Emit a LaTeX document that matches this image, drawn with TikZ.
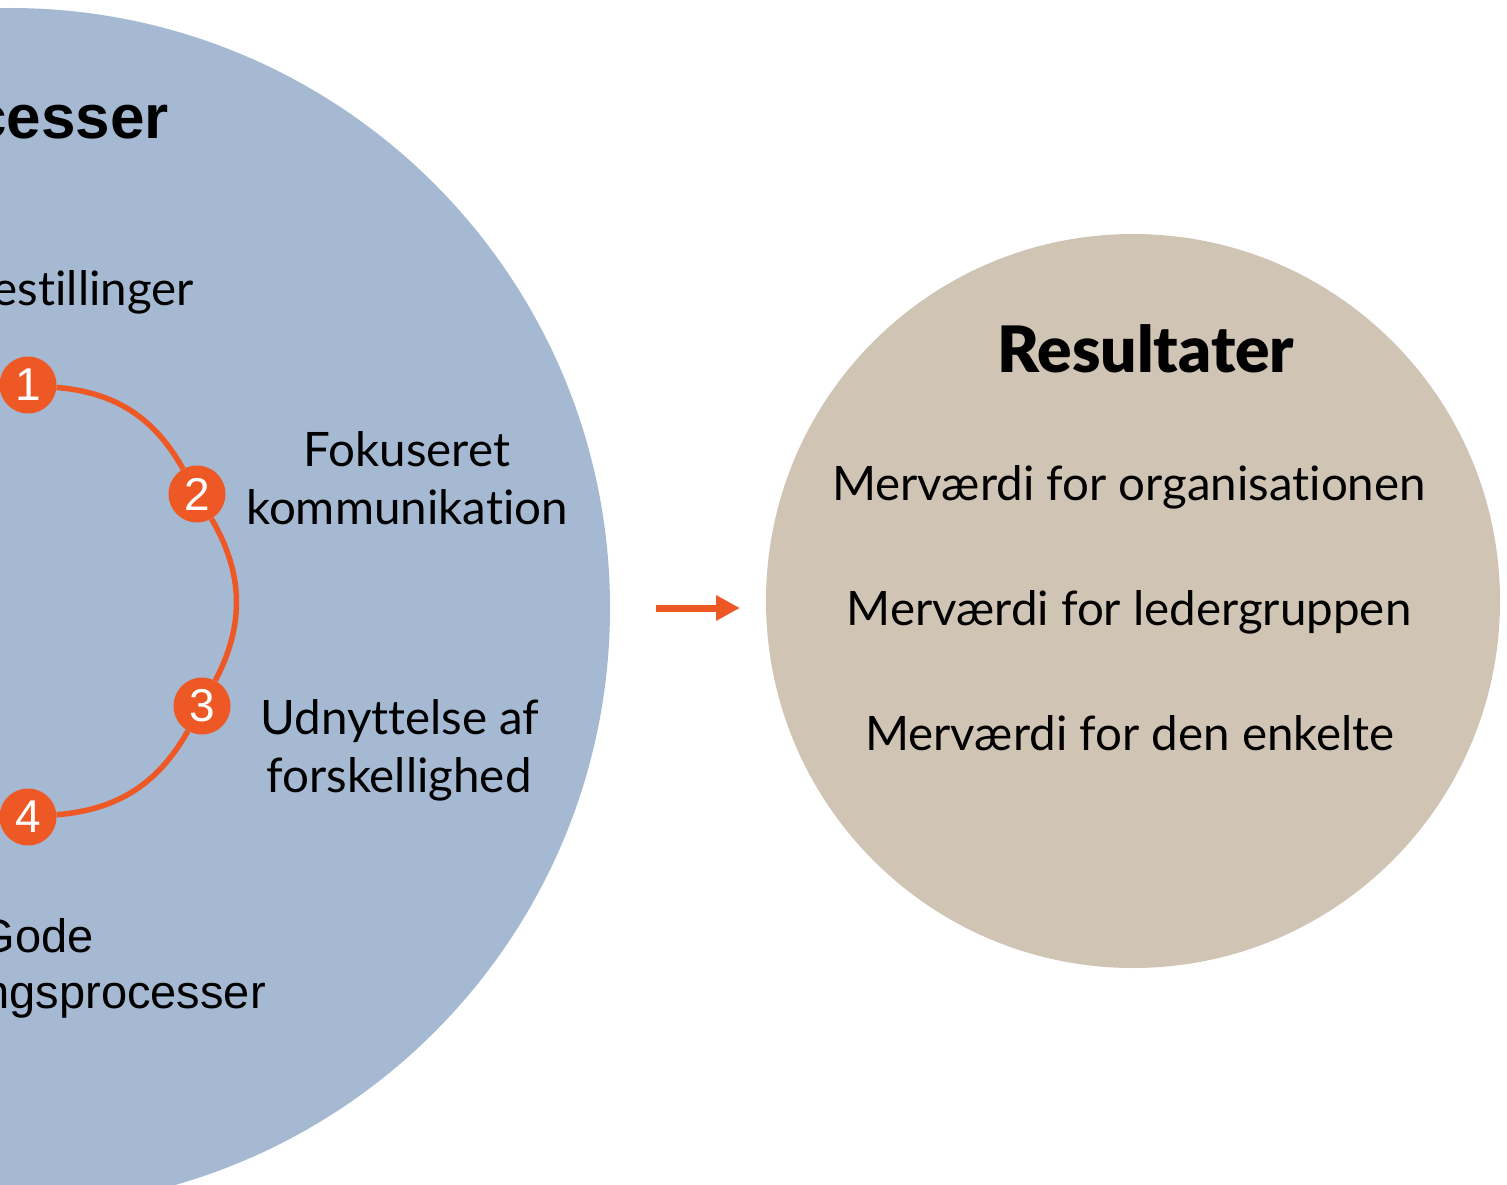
\documentclass[tikz,border=0pt]{standalone}
\usepackage{fontspec}
\setmainfont{Lato}[Ligatures={NoCommon}]
\newfontfamily\latoblack{Lato Black}[Ligatures={NoCommon}]
\newfontfamily\arialfont{Liberation Sans}
\usetikzlibrary{arrows.meta}
\definecolor{bluefill}{RGB}{165,185,211}
\definecolor{beigefill}{RGB}{208,196,181}
\definecolor{orangeacc}{RGB}{238,88,36}
\begin{document}
\begin{tikzpicture}[x=1pt,y=1pt,
  bodytext/.style={font=\fontsize{47.5}{56}\selectfont, inner sep=0pt, text=black},
  ariatext/.style={font=\arialfont\fontsize{47}{56}\selectfont, inner sep=0pt, text=black},
  numdot/.style={circle, fill=orangeacc, minimum size=57pt, inner sep=0pt, text=white, font=\arialfont\fontsize{46}{46}\selectfont},
  linkarc/.style={draw=orangeacc, line width=5.5pt},
  bigdisc/.style={circle, inner sep=0pt},
]
\useasboundingbox (0,0) rectangle (1507,-1185);
\fill[white] (0,0) rectangle (1507,-1185);
% discs
\node[bigdisc, fill=bluefill, minimum size=1200pt] (procs) at (10,-608) {};
\node[bigdisc, fill=beigefill, minimum size=734pt] (res) at (1133,-601) {};
% left texts (clipped fragments)
\node[anchor=base east, inner sep=0pt, font=\arialfont\bfseries\fontsize{62}{70}\selectfont] (ttl) at (169,-139) {cesser};
\node[bodytext, anchor=base east] (est) at (194,-305) {estillinger};
\node[bodytext, anchor=base] (fok1) at (407,-466) {Fokuseret};
\node[bodytext, anchor=base] (fok2) at (407,-524) {kommunikation};
\node[bodytext, anchor=base] (udn1) at (400,-734) {Udnyttelse af};
\node[bodytext, anchor=base] (udn2) at (399,-792) {forskellighed};
\node[ariatext, anchor=base east] (gode1) at (94,-952) {Gode};
\node[ariatext, anchor=base east] (gode2) at (266,-1008) {ngsprocesser};
% numbered dots
\node[numdot] (n1) at (28,-385) {1};
\node[numdot] (n2) at (197,-494) {2};
\node[numdot] (n3) at (202,-706) {3};
\node[numdot] (n4) at (28,-817) {4};
\draw[linkarc] (n1) to[bend left=28] (n2);
\draw[linkarc] (n2) to[bend left=29] (n3);
\draw[linkarc] (n3) to[bend left=28] (n4);
% arrow
\coordinate (a0) at (656,-608);
\coordinate (a1) at (740,-608);
\draw[orangeacc, line width=7pt, -{Triangle[length=24pt,width=24pt]}] (a0) -- (a1);
% right texts
\node[inner sep=0pt, anchor=base, font=\latoblack\fontsize{64}{72}\selectfont] (rtitle) at (1146,-372) {Resultater};
\node[bodytext, anchor=base] (r1) at (1129,-500) {Merværdi for organisationen};
\node[bodytext, anchor=base] (r2) at (1129,-625) {Merværdi for ledergruppen};
\node[bodytext, anchor=base] (r3) at (1130,-750) {Merværdi for den enkelte};
\end{tikzpicture}
\end{document}
